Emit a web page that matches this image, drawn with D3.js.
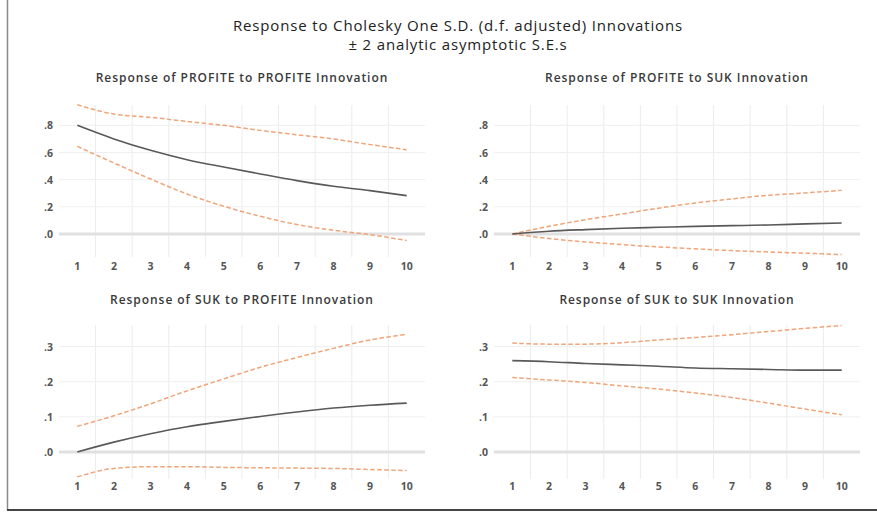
<!DOCTYPE html>
<html><head><meta charset="utf-8">
<script src="https://cdn.jsdelivr.net/npm/d3@7"></script>
<style>
html,body{margin:0;padding:0;background:#fff;}
svg{display:block;font-family:"Open Sans",Lato,sans-serif;}
</style></head>
<body>
<svg id="chart" width="877" height="513"></svg>
<script>
const periods = [1,2,3,4,5,6,7,8,9,10];
const mainTitle = "Response to Cholesky One S.D. (d.f. adjusted) Innovations";
const subTitle = "\u00b1 2 analytic asymptotic S.E.s";
const panelTitles = [
  "Response of PROFITE to PROFITE Innovation",
  "Response of PROFITE to SUK Innovation",
  "Response of SUK to PROFITE Innovation",
  "Response of SUK to SUK Innovation"
];
const topTicks = [0, 0.2, 0.4, 0.6, 0.8];
const bottomTicks = [0, 0.1, 0.2, 0.3];

// Response of PROFITE to PROFITE
const pp_resp  = [0.80, 0.70, 0.616, 0.547, 0.493, 0.442, 0.393, 0.351, 0.319, 0.282];
const pp_upper = [0.952, 0.883, 0.859, 0.829, 0.80, 0.763, 0.731, 0.70, 0.658, 0.621];
const pp_lower = [0.645, 0.523, 0.405, 0.294, 0.204, 0.13, 0.069, 0.027, -0.005, -0.049];
// Response of PROFITE to SUK
const ps_resp  = [0, 0.02, 0.032, 0.042, 0.049, 0.056, 0.061, 0.066, 0.074, 0.081];
const ps_upper = [0, 0.056, 0.105, 0.147, 0.19, 0.228, 0.258, 0.285, 0.302, 0.321];
const ps_lower = [0, -0.034, -0.059, -0.079, -0.096, -0.11, -0.123, -0.133, -0.142, -0.152];
// Response of SUK to PROFITE
const sp_resp  = [0, 0.028, 0.052, 0.072, 0.087, 0.101, 0.114, 0.125, 0.133, 0.139];
const sp_upper = [0.073, 0.103, 0.137, 0.174, 0.208, 0.241, 0.269, 0.295, 0.319, 0.335];
const sp_lower = [-0.071, -0.047, -0.042, -0.042, -0.044, -0.045, -0.046, -0.047, -0.05, -0.053];
// Response of SUK to SUK
const ss_resp  = [0.26, 0.257, 0.252, 0.248, 0.244, 0.239, 0.237, 0.235, 0.233, 0.233];
const ss_upper = [0.31, 0.307, 0.307, 0.311, 0.319, 0.326, 0.334, 0.343, 0.352, 0.36];
const ss_lower = [0.212, 0.205, 0.198, 0.188, 0.179, 0.168, 0.155, 0.139, 0.122, 0.106];

const svg = d3.select("#chart");

// frame
svg.append("line").attr("x1",7.5).attr("x2",7.5).attr("y1",0).attr("y2",510)
  .attr("stroke","#8a8a8a").attr("stroke-width",1.5);
svg.append("line").attr("x1",7).attr("x2",877).attr("y1",510).attr("y2",510)
  .attr("stroke","#444").attr("stroke-width",2);

svg.append("text").attr("x",458).attr("y",31).attr("text-anchor","middle")
  .attr("font-size",15).attr("letter-spacing",0.85).attr("fill","#222").text(mainTitle);
svg.append("text").attr("x",458).attr("y",50).attr("text-anchor","middle")
  .attr("font-size",15).attr("letter-spacing",0.85).attr("fill","#222").text(subTitle);

const panels = [
  {title: panelTitles[0], resp: pp_resp, up: pp_upper, lo: pp_lower, ticks: topTicks,
   x0: 59, x1: 425, yTop: 105, yBot: 257, dom: [-0.17, 0.95], titleY: 82, labY: 270},
  {title: panelTitles[1], resp: ps_resp, up: ps_upper, lo: ps_lower, ticks: topTicks,
   x0: 494, x1: 860, yTop: 105, yBot: 257, dom: [-0.17, 0.95], titleY: 82, labY: 270},
  {title: panelTitles[2], resp: sp_resp, up: sp_upper, lo: sp_lower, ticks: bottomTicks,
   x0: 59, x1: 425, yTop: 325, yBot: 479, dom: [-0.077, 0.3615], titleY: 304, labY: 490},
  {title: panelTitles[3], resp: ss_resp, up: ss_upper, lo: ss_lower, ticks: bottomTicks,
   x0: 494, x1: 860, yTop: 325, yBot: 479, dom: [-0.077, 0.3615], titleY: 304, labY: 490}
];

const fmt = v => d3.format(".1f")(v).replace(/^0\./, ".").replace(/^-0\./, "-.");

panels.forEach(p => {
  const g = svg.append("g");
  const x = d3.scaleLinear().domain([0.5, 10.5]).range([p.x0, p.x1]);
  const y = d3.scaleLinear().domain(p.dom).range([p.yBot, p.yTop]);

  g.append("text").attr("x",(p.x0+p.x1)/2).attr("y",p.titleY).attr("text-anchor","middle")
    .attr("font-size",12).attr("font-weight",600).attr("letter-spacing",0.95)
    .attr("fill","#3a3a3a").text(p.title);

  // vertical gridlines between periods
  const vgrid = d3.range(1.5, 10, 1);
  g.selectAll(".vg").data(vgrid).join("line")
    .attr("x1",d=>x(d)).attr("x2",d=>x(d)).attr("y1",p.yTop).attr("y2",p.yBot)
    .attr("stroke","#ececec").attr("stroke-width",1);
  // horizontal gridlines
  g.selectAll(".hg").data(p.ticks).join("line")
    .attr("x1",p.x0).attr("x2",p.x1).attr("y1",d=>y(d)).attr("y2",d=>y(d))
    .attr("stroke", d => d===0 ? "#e0e0e0" : "#efefef")
    .attr("stroke-width", d => d===0 ? 3 : 1);

  // y tick labels
  g.selectAll(".yl").data(p.ticks).join("text")
    .attr("x",p.x0-6).attr("y",d=>y(d)+4).attr("text-anchor","end")
    .attr("font-size",10.5).attr("font-weight","bold").attr("fill","#555").text(fmt);
  // x tick labels
  g.selectAll(".xl").data(periods).join("text")
    .attr("x",d=>x(d)).attr("y",p.labY).attr("text-anchor","middle")
    .attr("font-size",10.5).attr("font-weight","bold").attr("fill","#555").text(d=>d);

  const line = d3.line().x((d,i)=>x(periods[i])).y(d=>y(d)).curve(d3.curveMonotoneX);
  [p.up, p.lo].forEach(arr => {
    g.append("path").attr("d", line(arr)).attr("fill","none")
      .attr("stroke","#f1a477").attr("stroke-width",1.5).attr("stroke-dasharray","4.5,2.5");
  });
  g.append("path").attr("d", line(p.resp)).attr("fill","none")
    .attr("stroke","#595959").attr("stroke-width",1.6);
});
</script>
</body></html>
